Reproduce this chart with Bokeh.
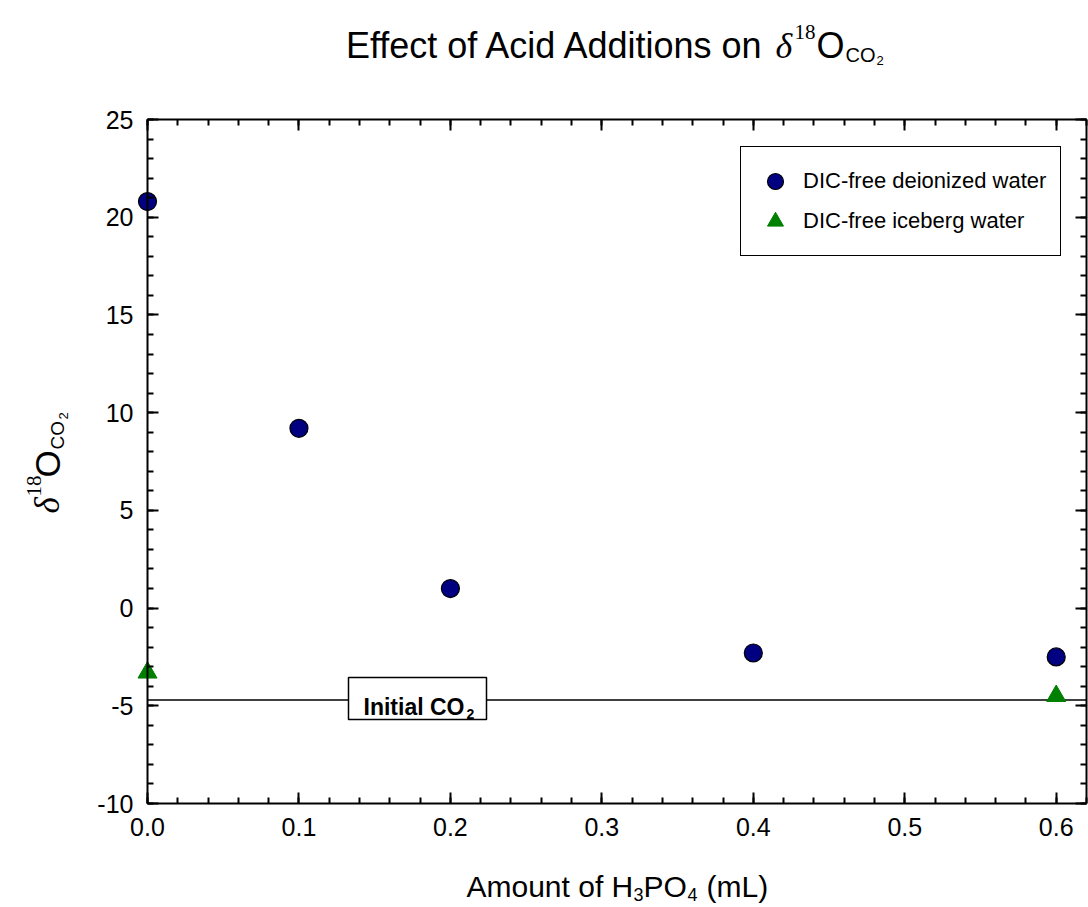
import math
from bokeh.plotting import figure
from bokeh.models import (LinearAxis, FixedTicker, Range1d, Label,
                          BoxAnnotation, Legend)
from bokeh.embed import file_html
from bokeh.resources import INLINE

# ---------------- data ----------------
deion_x = [0.0, 0.1, 0.2, 0.4, 0.6]
deion_y = [20.8, 9.2, 1.0, -2.3, -2.5]
ice_x = [0.0, 0.6]
ice_y = [-3.3, -4.5]
initial_co2 = -4.7

x_ticks = [0.0, 0.1, 0.2, 0.3, 0.4, 0.5, 0.6]
x_tick_labels = ["0.0", "0.1", "0.2", "0.3", "0.4", "0.5", "0.6"]
x_minor = [round(i * 0.02, 2) for i in range(0, 32)]
y_ticks = [-10, -5, 0, 5, 10, 15, 20, 25]
y_tick_labels = ["-10", "-5", "0", "5", "10", "15", "20", "25"]
y_minor = list(range(-10, 26))

# ---------------- layout ----------------
W, H = 1088, 907
FL, FR, FT, FB = 147, 1086, 119, 803      # plot box in pixels
X0, X1 = 0.0, 0.62
Y0, Y1 = -10.0, 25.0
SANS = "Liberation Sans"
SERIF = "Liberation Serif"


def dx(px):
    return X0 + (px - FL) / (FR - FL) * (X1 - X0)


def dy(py):
    return Y1 - (py - FT) / (FB - FT) * (Y1 - Y0)


p = figure(width=W, height=H, output_backend="svg", toolbar_location=None,
           x_range=Range1d(dx(0), dx(W)), y_range=Range1d(dy(H), dy(0)),
           min_border=0, x_axis_location=None, y_axis_location=None)
p.title.visible = False
p.grid.visible = False
p.outline_line_color = None
p.background_fill_color = "white"
p.border_fill_color = "white"

xt = FixedTicker(ticks=x_ticks, minor_ticks=x_minor)
yt = FixedTicker(ticks=y_ticks, minor_ticks=y_minor)


def style_axis(ax, show_labels):
    ax.axis_line_width = 2
    ax.axis_line_color = "black"
    ax.major_tick_line_width = 2
    ax.minor_tick_line_width = 2
    ax.major_tick_in = 11
    ax.major_tick_out = 0
    ax.minor_tick_in = 6
    ax.minor_tick_out = 0
    ax.major_label_text_font = SANS
    ax.major_label_text_font_size = "25px"
    ax.major_label_standoff = 14
    ax.major_label_text_color = "black" if show_labels else None


bx = LinearAxis(ticker=xt, fixed_location=Y0, bounds=(X0, X1),
                major_label_overrides=dict(zip(x_ticks, x_tick_labels)))
style_axis(bx, True)
p.add_layout(bx, "below")
tx = LinearAxis(ticker=xt, fixed_location=Y1, bounds=(X0, X1))
style_axis(tx, False)
p.add_layout(tx, "above")
ly = LinearAxis(ticker=yt, fixed_location=X0, bounds=(Y0, Y1),
                major_label_overrides=dict(zip(y_ticks, y_tick_labels)))
style_axis(ly, True)
p.add_layout(ly, "left")
ry = LinearAxis(ticker=yt, fixed_location=X1, bounds=(Y0, Y1))
style_axis(ry, False)
p.add_layout(ry, "right")

# initial CO2 reference line across the plot box
p.line([X0, X1], [initial_co2, initial_co2], line_color="black", line_width=1.5)

r1 = p.scatter(deion_x, deion_y, marker="circle", size=18, fill_color="#000080",
               line_color="black", line_width=1.2)
r2 = p.scatter(ice_x, ice_y, marker="triangle", size=19, fill_color="#008000",
               line_color="#008000", line_width=1)

legend = Legend(items=[("DIC-free deionized water", [r1]),
                       ("DIC-free iceberg water", [r2])],
                location=(740, H - 256))
legend.margin = 0
legend.padding = 14
legend.spacing = -8
legend.glyph_height = 40
legend.glyph_width = 40
legend.label_standoff = 8
legend.label_height = 20
legend.label_text_font = SANS
legend.label_text_font_size = "22px"
legend.label_text_color = "black"
legend.border_line_color = "black"
legend.border_line_alpha = 1
legend.border_line_width = 1.5
legend.background_fill_color = "white"
legend.background_fill_alpha = 1
p.add_layout(legend)

# "Initial CO2" boxed label
p.add_layout(BoxAnnotation(left=dx(348), right=dx(486), top=dy(677), bottom=dy(719),
                           fill_color="white", fill_alpha=1, line_color="black",
                           line_alpha=1, line_width=1.5))


def lab(px, py, text, size, font=SANS, fstyle="normal", angle=0.0, align="left"):
    p.add_layout(Label(x=dx(px), y=dy(py), text=text, text_font=font,
                       text_font_size=f"{size}px", text_font_style=fstyle,
                       text_color="black", text_baseline="alphabetic",
                       text_align=align, angle=angle))


lab(363, 706, "Initial CO", 23, fstyle="bold")
lab(466, 713, "2", 14, fstyle="bold")

# title
lab(765, 45, "Effect of Acid Additions on", 36, align="right")
lab(775, 45, "\u03b4", 36, font=SERIF, fstyle="italic")
lab(794, 31, "18", 21, font=SERIF)
lab(816, 45, "O", 36)
lab(845, 54, "CO", 20)
lab(876, 60, "2", 13)

# x axis title
lab(466, 886, "Amount of H", 30)
lab(633, 894, "3", 18)
lab(643, 886, "PO", 30)
lab(687, 894, "4", 18)
lab(706, 886, "(mL)", 30)

# y axis title (rotated)
A = math.pi / 2
lab(47, 513, "\u03b4", 35, font=SERIF, fstyle="italic", angle=A)
lab(33, 496, "18", 21, font=SERIF, angle=A)
lab(47, 477, "O", 35, angle=A)
lab(57, 449, "CO", 19, angle=A)
lab(63, 419, "2", 13, angle=A)

open("out.html", "w").write(file_html(p, INLINE))
